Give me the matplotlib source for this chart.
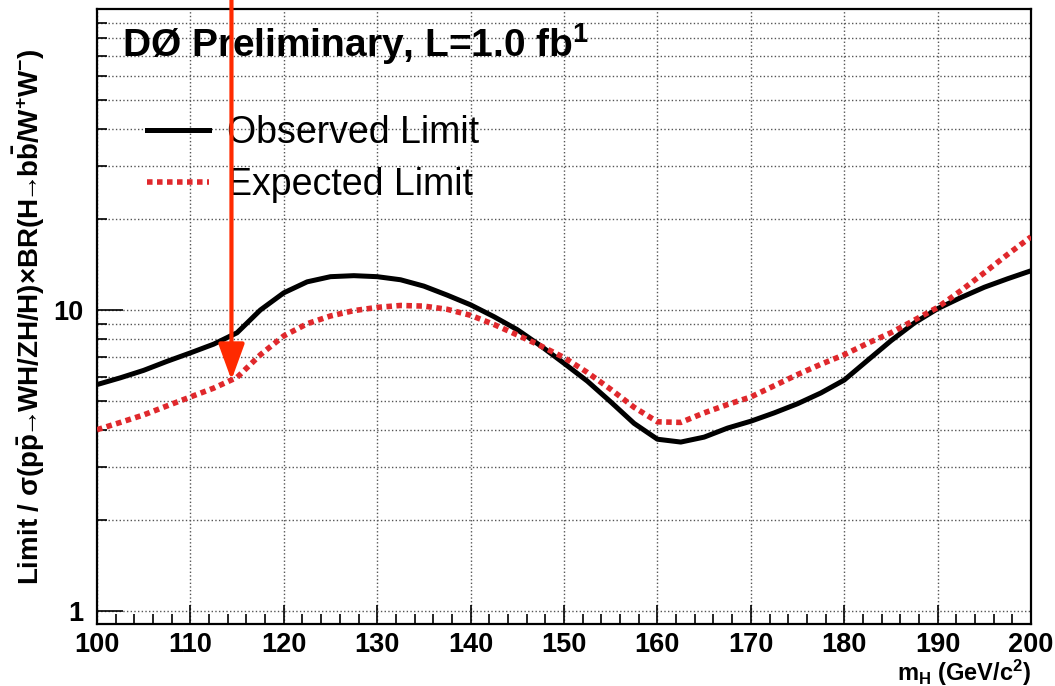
import matplotlib
matplotlib.use('Agg')
import matplotlib.pyplot as plt
from matplotlib.ticker import MultipleLocator, LogLocator, NullFormatter, FixedLocator

plt.rcParams['font.family'] = ['Liberation Sans', 'DejaVu Sans']
plt.rcParams['mathtext.fontset'] = 'custom'
plt.rcParams['mathtext.rm'] = 'Liberation Sans'
plt.rcParams['mathtext.bf'] = 'Liberation Sans:bold'
plt.rcParams['mathtext.it'] = 'Liberation Sans:italic'
plt.rcParams['mathtext.fallback'] = 'stixsans'

# Higgs mass points (GeV/c^2)
mass = [100, 102.5, 105, 107.5, 110, 112.5, 115, 117.5, 120, 122.5, 125, 127.5,
        130, 132.5, 135, 137.5, 140, 142.5, 145, 147.5, 150, 152.5, 155, 157.5,
        160, 162.5, 165, 167.5, 170, 172.5, 175, 177.5, 180, 182.5, 185, 187.5,
        190, 192.5, 195, 197.5, 200]

observed = [5.65, 5.95, 6.3, 6.75, 7.2, 7.7, 8.4, 10.0, 11.4, 12.4, 12.9, 13.0,
            12.9, 12.6, 12.0, 11.2, 10.4, 9.5, 8.6, 7.6, 6.65, 5.8, 4.95, 4.2,
            3.72, 3.64, 3.78, 4.05, 4.27, 4.55, 4.88, 5.3, 5.85, 6.8, 7.9, 9.05,
            10.1, 11.0, 11.9, 12.7, 13.5]

expected = [4.0, 4.23, 4.48, 4.8, 5.14, 5.5, 5.97, 7.1, 8.2, 9.0, 9.55, 9.95,
            10.2, 10.35, 10.3, 10.05, 9.6, 8.95, 8.26, 7.6, 6.95, 6.2, 5.45, 4.75,
            4.25, 4.23, 4.55, 4.85, 5.14, 5.6, 6.1, 6.6, 7.1, 7.75, 8.4, 9.25,
            10.2, 11.6, 13.3, 15.3, 17.5]

lep_mass = 114.4
lep_value = 5.85

xticks = [100, 110, 120, 130, 140, 150, 160, 170, 180, 190, 200]
yticks = [1, 10]

fig = plt.figure(figsize=(10.55, 6.86), dpi=100)
ax = fig.add_axes([0.0919, 0.0904, 0.8854, 0.8965])

ax.plot(mass, observed, '-', c='k', lw=3.6, label='Observed Limit', zorder=3)
ax.plot(mass, expected, c='#e0282c', lw=4, ls=(0, (1, 0.8)), label='Expected Limit', zorder=4)

ax.set_yscale('log')
ax.set_xlim(100, 200)
ax.set_ylim(0.905, 100)

ax.xaxis.set_major_locator(FixedLocator(xticks))
ax.xaxis.set_minor_locator(MultipleLocator(2))
ax.yaxis.set_major_locator(FixedLocator(yticks))
ax.yaxis.set_minor_locator(LogLocator(base=10, subs=range(2, 10)))
ax.yaxis.set_minor_formatter(NullFormatter())
ax.set_yticklabels([str(t) for t in yticks])
ax.set_xticklabels([str(t) for t in xticks])

ax.tick_params(axis='both', which='both', direction='in', top=False, right=False)
ax.tick_params(axis='y', which='major', length=19, width=1.2, pad=10)
ax.tick_params(axis='y', which='minor', length=7, width=1.2)
ax.tick_params(axis='x', which='major', length=14, width=1.2, pad=6)
ax.tick_params(axis='x', which='minor', length=7, width=1.2)
for lab in ax.get_xticklabels() + ax.get_yticklabels():
    lab.set_fontsize(19.5)
    lab.set_fontweight('bold')

ax.grid(True, which='major', axis='x', ls=':', lw=1.0, c='#555555')
ax.grid(True, which='both', axis='y', ls=':', lw=1.0, c='#555555')
for s in ax.spines.values():
    s.set_linewidth(1.6)

ax.text(0.027, 0.922, r'DØ Preliminary, L=1.0 fb$^{\mathbf{1}}$', transform=ax.transAxes,
        fontsize=28, fontweight='bold', va='baseline', ha='left')

leg = ax.legend(loc='upper left', bbox_to_anchor=(0.054, 0.828), frameon=False,
                fontsize=27, handlelength=1.65, handletextpad=0.48, labelspacing=0.44,
                borderpad=0, borderaxespad=0)

ax.set_ylabel(r'Limit / σ(p$\mathbf{\bar{p}}\!\!\rightarrow\!\!$WH/ZH/H)×BR(H$\!\!\rightarrow\!\!$b$\mathbf{\bar{b}}$/W$^{\mathbf{+}}$W$^{\mathbf{-}}$)',
              fontsize=20, fontweight='bold')
ax.yaxis.set_label_coords(-0.0535, 0.5)
ax.set_xlabel(r'm$_{\mathbf{H}}$ (GeV/c$^{\mathbf{2}}$)', fontsize=17, fontweight='bold')
ax.xaxis.set_label_coords(1.0, -0.055)
ax.xaxis.label.set_ha('right')

# LEP exclusion arrow
ax.annotate('', xy=(lep_mass, lep_value), xycoords='data',
            xytext=(lep_mass, 1.0), textcoords=('data', 'figure fraction'),
            arrowprops=dict(arrowstyle='-|>,head_length=1.1,head_width=0.4',
                            color='#ff2a00', lw=3, mutation_scale=20, shrinkA=0, shrinkB=0),
            annotation_clip=False, zorder=6)

fig.savefig('out.png', dpi=100)
